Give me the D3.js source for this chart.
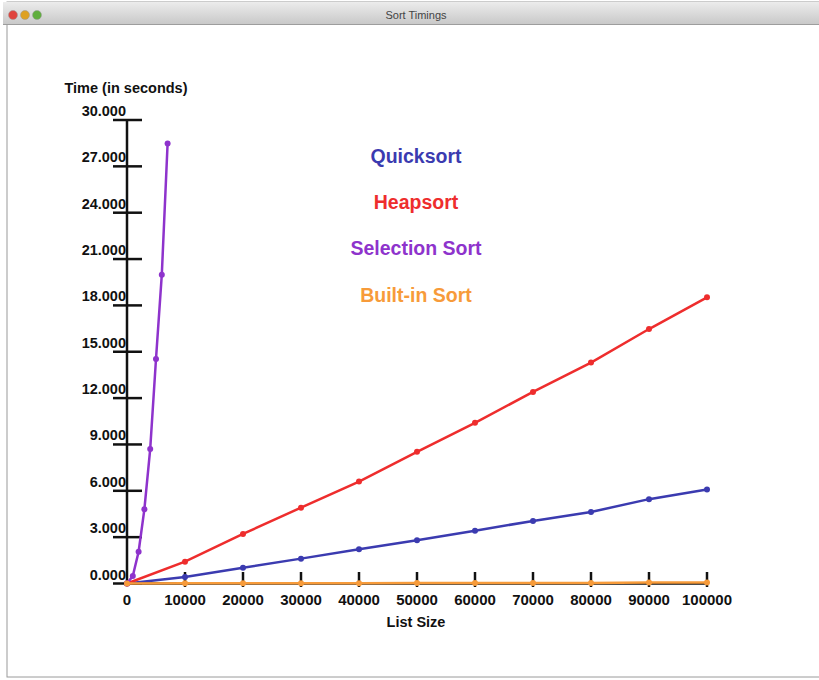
<!DOCTYPE html>
<html><head><meta charset="utf-8">
<script src="https://cdn.jsdelivr.net/npm/d3@7"></script>
<style>body{margin:0;background:#fff;}svg{display:block;}</style>
</head><body>
<script>
const sizes = [0,10000,20000,30000,40000,50000,60000,70000,80000,90000,100000];
const quicksort = [0,0.42,1.02,1.61,2.22,2.80,3.42,4.05,4.63,5.46,6.08];
const heapsort = [0,1.41,3.21,4.91,6.60,8.52,10.40,12.40,14.30,16.47,18.52];
const selSizes = [0,1000,2000,3000,4000,5000,6000,7000];
const selection = [0,0.49,2.06,4.81,8.70,14.53,19.99,28.48];
const builtin = [0,0.01,0.01,0.02,0.02,0.03,0.03,0.04,0.04,0.06,0.07];
const yTicks = [0,3,6,9,12,15,18,21,24,27,30];
const xTicks = [0,10000,20000,30000,40000,50000,60000,70000,80000,90000,100000];
const names = ["Quicksort","Heapsort","Selection Sort","Built-in Sort"];
const colors = ["#3b3bb0","#ee2d2d","#8e33cc","#f79b3a"];

const W=819,H=680;
const svg=d3.select("body").append("svg").attr("width",W).attr("height",H);
// window chrome
const defs=svg.append("defs");
const g=defs.append("linearGradient").attr("id","tb").attr("x1",0).attr("y1",0).attr("x2",0).attr("y2",1);
g.append("stop").attr("offset","0").attr("stop-color","#ececec");
g.append("stop").attr("offset","1").attr("stop-color","#c9c9c9");
svg.append("rect").attr("x",7).attr("y",2).attr("width",W).attr("height",675).attr("fill","#fff").attr("stroke","#9a9a9a").attr("stroke-width",1);
svg.append("rect").attr("x",3).attr("y",2).attr("width",W).attr("height",22).attr("fill","url(#tb)");
svg.append("line").attr("x1",3).attr("x2",W).attr("y1",24.5).attr("y2",24.5).attr("stroke","#9d9d9d");
[["#e0443e",13],["#dea123",25],["#5fae3c",37]].forEach(([c,x])=>{
  svg.append("circle").attr("cx",x).attr("cy",15).attr("r",4.5).attr("fill",c).attr("stroke","#999").attr("stroke-width",0.5);
});
svg.append("text").attr("x",416).attr("y",19).attr("text-anchor","middle")
  .attr("font-family","Liberation Sans, Arial, sans-serif").attr("font-size",11).attr("fill","#444").text("Sort Timings");

const x=d3.scaleLinear().domain([0,100000]).range([127,707]);
const y=d3.scaleLinear().domain([0,30]).range([583.5,120]);
const font="Liberation Sans, Arial, Helvetica, sans-serif";

// x axis baseline
svg.append("line").attr("x1",x(0)).attr("x2",x(100000)).attr("y1",y(0)).attr("y2",y(0)).attr("stroke","#111").attr("stroke-width",2.5);
// y axis
svg.append("line").attr("x1",x(0)).attr("x2",x(0)).attr("y1",y(30)).attr("y2",y(0)+2).attr("stroke","#111").attr("stroke-width",2.5);
const fy=d3.format(".3f");
yTicks.forEach(t=>{
  svg.append("line").attr("x1",113).attr("x2",142).attr("y1",y(t)).attr("y2",y(t)).attr("stroke","#111").attr("stroke-width",2.5);
  svg.append("text").attr("x",126).attr("y",y(t)-4).attr("text-anchor","end").attr("font-family",font)
    .attr("font-weight","bold").attr("font-size",14.5).attr("fill","#111").text(fy(t));
});
xTicks.forEach(t=>{
  if(t>0) svg.append("line").attr("x1",x(t)).attr("x2",x(t)).attr("y1",572).attr("y2",587).attr("stroke","#111").attr("stroke-width",2.5);
  svg.append("text").attr("x",x(t)).attr("y",605).attr("text-anchor","middle").attr("font-family",font)
    .attr("font-weight","bold").attr("font-size",15).attr("fill","#111").text(String(t));
});
svg.append("text").attr("x",126).attr("y",93).attr("text-anchor","middle").attr("font-family",font)
  .attr("font-weight","bold").attr("font-size",14.5).attr("fill","#111").text("Time (in seconds)");
svg.append("text").attr("x",416).attr("y",627).attr("text-anchor","middle").attr("font-family",font)
  .attr("font-weight","bold").attr("font-size",14.5).attr("fill","#111").text("List Size");

const line=d3.line().x(d=>x(d[0])).y(d=>y(d[1]));
const series=[
  sizes.map((s,i)=>[s,quicksort[i]]),
  sizes.map((s,i)=>[s,heapsort[i]]),
  selSizes.map((s,i)=>[s,selection[i]]),
  sizes.map((s,i)=>[s,builtin[i]])
];
series.forEach((data,k)=>{
  svg.append("path").datum(data).attr("d",line).attr("fill","none").attr("stroke",colors[k]).attr("stroke-width",2.5);
  svg.selectAll(null).data(data).enter().append("circle").attr("cx",d=>x(d[0])).attr("cy",d=>y(d[1])).attr("r",3).attr("fill",colors[k]);
});
const ly=[156,202,248,295];
names.forEach((n,k)=>{
  svg.append("text").attr("x",416).attr("y",ly[k]+7).attr("text-anchor","middle").attr("font-family",font)
    .attr("font-weight","bold").attr("font-size",19.5).attr("fill",colors[k]).text(n);
});
</script>
</body></html>
